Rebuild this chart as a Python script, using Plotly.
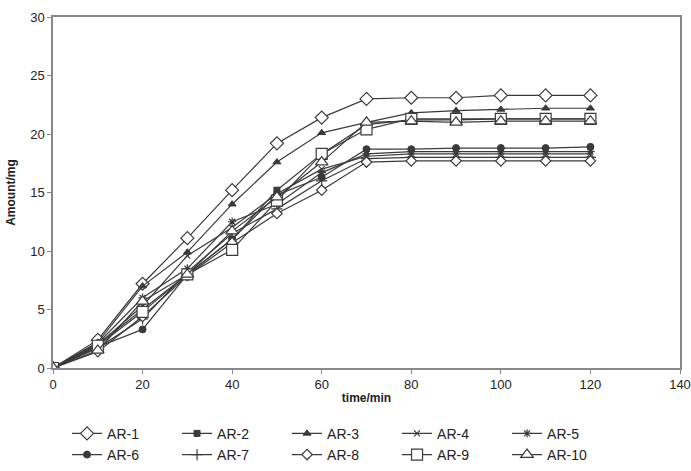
import plotly.graph_objects as go

time = [0, 10, 20, 30, 40, 50, 60, 70, 80, 90, 100, 110, 120]
series_names = ["AR-1", "AR-2", "AR-3", "AR-4", "AR-5", "AR-6", "AR-7", "AR-8", "AR-9", "AR-10"]
ar1 = [0, 2.4, 7.2, 11.1, 15.2, 19.2, 21.4, 23.0, 23.1, 23.1, 23.3, 23.3, 23.3]
ar2 = [0, 2.0, 5.0, 8.0, 11.0, 15.2, 18.3, 20.8, 21.2, 21.2, 21.3, 21.3, 21.3]
ar3 = [0, 2.2, 7.0, 9.9, 14.0, 17.6, 20.1, 21.0, 21.8, 22.0, 22.1, 22.2, 22.2]
ar4 = [0, 2.0, 5.3, 9.6, 12.0, 14.9, 17.0, 18.1, 18.3, 18.3, 18.3, 18.3, 18.3]
ar5 = [0, 2.1, 6.0, 8.5, 12.5, 14.0, 16.7, 18.3, 18.5, 18.5, 18.5, 18.5, 18.5]
ar6 = [0, 1.8, 3.3, 8.0, 11.0, 14.8, 16.3, 18.7, 18.7, 18.8, 18.8, 18.8, 18.9]
ar7 = [0, 1.7, 4.2, 8.2, 11.5, 13.6, 16.0, 17.9, 18.0, 18.0, 18.0, 18.0, 18.0]
ar8 = [0, 1.4, 4.4, 7.9, 10.7, 13.2, 15.2, 17.6, 17.7, 17.7, 17.7, 17.7, 17.7]
ar9 = [0, 1.9, 4.8, 8.0, 10.1, 14.3, 18.3, 20.4, 21.3, 21.3, 21.3, 21.3, 21.3]
ar10 = [0, 1.5, 5.7, 8.0, 11.7, 14.6, 17.6, 21.0, 21.1, 21.0, 21.1, 21.1, 21.1]
values = [ar1, ar2, ar3, ar4, ar5, ar6, ar7, ar8, ar9, ar10]

LINE = "#3a3a3a"
styles = [
    dict(symbol="diamond", size=10, color="white", line=dict(color=LINE, width=1.2)),
    dict(symbol="square", size=6, color=LINE, line=dict(color=LINE, width=1)),
    dict(symbol="triangle-up", size=7, color=LINE, line=dict(color=LINE, width=1)),
    dict(symbol="x-thin-open", size=6, color=LINE, line=dict(color=LINE, width=1.2)),
    dict(symbol="asterisk-open", size=7, color=LINE, line=dict(color=LINE, width=1.2)),
    dict(symbol="circle", size=7, color=LINE, line=dict(color=LINE, width=1)),
    dict(symbol="cross-thin-open", size=8, color=LINE, line=dict(color=LINE, width=1.2)),
    dict(symbol="diamond", size=8, color="white", line=dict(color=LINE, width=1.2)),
    dict(symbol="square", size=11, color="white", line=dict(color=LINE, width=1.2)),
    dict(symbol="triangle-up", size=11, color="white", line=dict(color=LINE, width=1.2)),
]

fig = go.Figure()
for name, vals, st in zip(series_names, values, styles):
    fig.add_trace(go.Scatter(
        x=time, y=vals, name=name, mode="lines+markers",
        line=dict(color=LINE, width=1.2), marker=st,
    ))

fig.update_layout(
    width=691, height=471,
    margin=dict(l=53, r=11, t=17, b=103, autoexpand=False),
    paper_bgcolor="white", plot_bgcolor="white",
    font=dict(family="Liberation Sans, Arial, sans-serif", size=13, color="#222"),
    showlegend=True,
    legend=dict(orientation="h", x=0.495, xanchor="center", xref="container",
                y=0.113, yanchor="top", yref="container",
                entrywidth=65, entrywidthmode="pixels", font=dict(size=14),
                tracegroupgap=0, itemwidth=30),
)
fig.update_xaxes(
    range=[0, 140], dtick=20, showgrid=False, zeroline=False,
    showline=True, linecolor="#888", linewidth=1.5, mirror=True,
    ticks="outside", ticklen=4, tickcolor="#888",
    title=dict(text="<b>time/min</b>", font=dict(size=12), standoff=2),
)
fig.update_yaxes(
    range=[0, 30], dtick=5, showgrid=False, zeroline=False,
    showline=True, linecolor="#888", linewidth=1.5, mirror=True,
    ticks="outside", ticklen=4, tickcolor="#888",
    title=dict(text="<b>Amount/mg</b>", font=dict(size=12), standoff=12),
)
fig.write_html("out.html")
